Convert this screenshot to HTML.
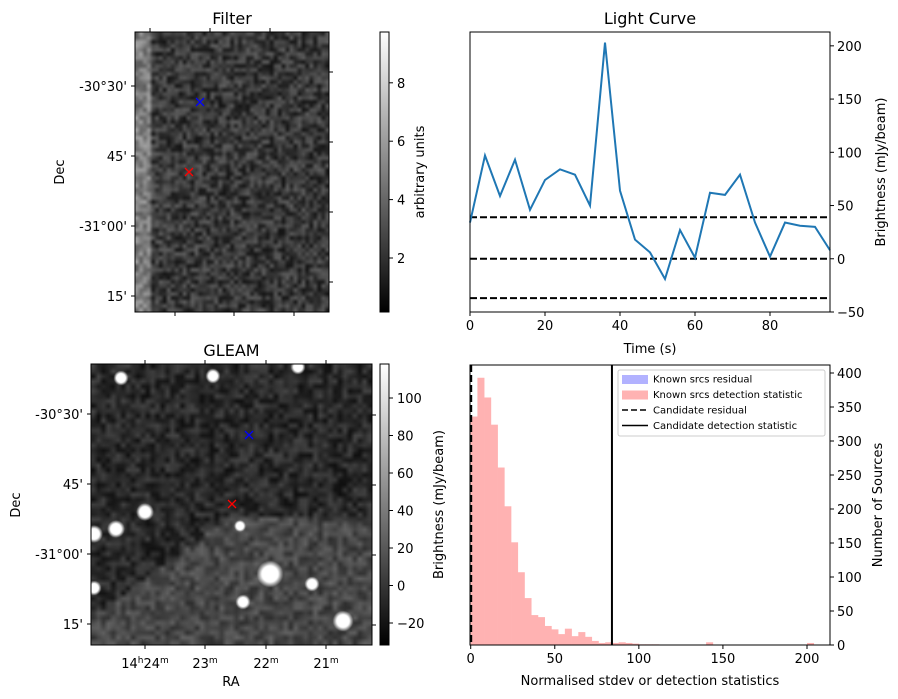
<!DOCTYPE html>
<html><head><meta charset="utf-8">
<style>
body{margin:0;background:#fff;}
#wrap{position:relative;width:898px;height:699px;overflow:hidden;font-family:"DejaVu Sans","Liberation Sans",sans-serif;}
canvas{position:absolute;}
svg{position:absolute;left:0;top:0;}
text{font-family:"DejaVu Sans","Liberation Sans",sans-serif;font-size:13px;fill:#000;}
</style></head>
<body>
<div id="wrap">
<canvas id="filterImg" width="194" height="280" style="left:135px;top:32px"></canvas>
<canvas id="gleamImg" width="281" height="281" style="left:91px;top:364px"></canvas>
<svg id="svg" width="898" height="699">
<defs><linearGradient id="cb" x1="0" y1="1" x2="0" y2="0"><stop offset="0" stop-color="#000"/><stop offset="1" stop-color="#fff"/></linearGradient></defs>
</svg>
</div>
<script>
// Light curve data
const lcTimes=[0,4,8,12,16,20,24,28,32,36,40,44,48,52,56,60,64,68,72,76,80,84,88,92,96];
const lcValues=[34,97,59,93,46,74,84,79,50,203,64,18,6,-19,27,1,62,60,79,34,2,34,31,30,8];
const lcThresholds=[39,0,-37];
const lcXTicks=[0,20,40,60,80];
const lcYTicks=[-50,0,50,100,150,200];
// Histogram data
const histBinStarts=[0,4,8,12,16,20,24,28,32,36,40,44,48,52,56,60,64,68,72,76,80,84,88,92,96,100,104,108,140,200];
const histCounts=[336,393,364,324,261,204,151,107,69,44,41,28,23,16,24,13,19,12,6,3,4,3,4,3,2,1,1,1,4,3];
const histBinWidth=4;
const candResidual=0.3;
const candDetection=84;
const histXTicks=[0,50,100,150,200];
const histYTicks=[0,50,100,150,200,250,300,350,400];
const filterCbTicks=[2,4,6,8];
const gleamCbTicks=[-20,0,20,40,60,80,100];

const NS='http://www.w3.org/2000/svg';
const svg=document.getElementById('svg');
function mk(tag,attrs,name,txt){const e=document.createElementNS(NS,tag);for(const k in attrs)e.setAttribute(k,attrs[k]);


if(txt!==undefined)e.textContent=txt;svg.appendChild(e);return e;}

// ---- Light curve
const lcL=470,lcR=830,lcT=32,lcB=312;
const lx=t=>lcL+(t-0)/(96-0)*(lcR-lcL);
const ly=v=>lcB-(v-(-50))/(213-(-50))*(lcB-lcT);
lcThresholds.forEach(v=>mk('line',{x1:lcL,x2:lcR,y1:ly(v),y2:ly(v),stroke:'#000','stroke-width':2,'stroke-dasharray':'7,3'},'threshold-line'));
mk('polyline',{points:lcTimes.map((t,i)=>lx(t)+','+ly(lcValues[i])).join(' '),fill:'none',stroke:'#1f77b4','stroke-width':2},'light-curve-line');
mk('rect',{x:lcL,y:lcT,width:lcR-lcL,height:lcB-lcT,fill:'none',stroke:'#000','stroke-width':1},'light-curve-frame');
lcXTicks.forEach(t=>{mk('line',{x1:lx(t),x2:lx(t),y1:lcB,y2:lcB+4,stroke:'#000'},'x-tick');mk('text',{x:lx(t),y:lcB+18,'text-anchor':'middle'},'x-tick-label',t);});
lcYTicks.forEach(v=>{mk('line',{x1:lcR,x2:lcR+4,y1:ly(v),y2:ly(v),stroke:'#000'},'y-tick');mk('text',{x:lcR+7,y:ly(v)+5,'text-anchor':'start'},'y-tick-label',v<0?'\u2212'+(-v):v);});
mk('text',{x:650,y:24,'text-anchor':'middle',style:'font-size:16px'},'light-curve-title','Light Curve');
mk('text',{x:650,y:353,'text-anchor':'middle'},'x-axis-title','Time (s)');
mk('text',{x:0,y:0,'text-anchor':'middle',transform:'translate(885,172) rotate(-90)'},'y-axis-title','Brightness (mJy/beam)');

// ---- Histogram
const hL=470,hR=830,hT=365,hB=645;
const hx=v=>hL+0.7+(v-0)/(200)*(807-470.7);
const hy=c=>hB-c/400*(645-373);
histBinStarts.forEach((b,i)=>mk('rect',{x:hx(b),y:hy(histCounts[i]),width:hx(b+histBinWidth)-hx(b)+0.3,height:hB-hy(histCounts[i]),fill:'#ffb2b2'},'hist-bar'));
mk('line',{x1:hx(candResidual),x2:hx(candResidual),y1:hT,y2:hB,stroke:'#000','stroke-width':2,'stroke-dasharray':'7,3'},'candidate-residual-line');
mk('line',{x1:hx(candDetection),x2:hx(candDetection),y1:hT,y2:hB,stroke:'#000','stroke-width':2},'candidate-detection-line');
mk('rect',{x:hL,y:hT,width:hR-hL,height:hB-hT,fill:'none',stroke:'#000'},'histogram-frame');
histXTicks.forEach(t=>{mk('line',{x1:hx(t),x2:hx(t),y1:hB,y2:hB+4,stroke:'#000'},'x-tick');mk('text',{x:hx(t),y:hB+18,'text-anchor':'middle'},'x-tick-label',t);});
histYTicks.forEach(v=>{mk('line',{x1:hR,x2:hR+4,y1:hy(v),y2:hy(v),stroke:'#000'},'y-tick');mk('text',{x:hR+7,y:hy(v)+5},'y-tick-label',v);});
mk('text',{x:650,y:685,'text-anchor':'middle'},'x-axis-title','Normalised stdev or detection statistics');
mk('text',{x:0,y:0,'text-anchor':'middle',transform:'translate(882,505) rotate(-90)'},'y-axis-title','Number of Sources');
// legend
mk('rect',{x:618,y:370,width:207,height:66,fill:'#fff',stroke:'#ccc',rx:2},'legend-box');
const leg=[['Known srcs residual','blue'],['Known srcs detection statistic','red'],['Candidate residual','dash'],['Candidate detection statistic','solid']];
leg.forEach((l,i)=>{const y=379+i*15.5;
 if(l[1]==='blue')mk('rect',{x:622,y:y-4,width:26,height:9,fill:'#b2b2ff'},'legend-swatch');
 else if(l[1]==='red')mk('rect',{x:622,y:y-4,width:26,height:9,fill:'#ffb2b2'},'legend-swatch');
 else mk('line',{x1:622,x2:648,y1:y,y2:y,stroke:'#000','stroke-width':1.5,'stroke-dasharray':l[1]==='dash'?'6,3':''},'legend-line');
 mk('text',{x:653,y:y+3.5,style:'font-size:10px'},'legend-entry',l[0]);});

// ---- image axes
function imgAxes(L,T,R,B,title,leftY,leftLabels,topX,botX,rightY){
 mk('rect',{x:L,y:T,width:R-L,height:B-T,fill:'none',stroke:'#000'},'image-frame');
 mk('text',{x:(L+R)/2,y:T-8,'text-anchor':'middle',style:'font-size:16px'},'image-title',title);
 leftY.forEach((y,i)=>{mk('line',{x1:L-4,x2:L,y1:y,y2:y,stroke:'#000'},'dec-tick');mk('text',{x:L-8,y:y+5,'text-anchor':'end'},'dec-tick-label',leftLabels[i]);});
 rightY.forEach(y=>mk('line',{x1:R,x2:R+4,y1:y,y2:y,stroke:'#000'},'dec-tick'));
 topX.forEach(x=>mk('line',{x1:x,x2:x,y1:T-4,y2:T,stroke:'#000'},'ra-tick'));
 botX.forEach(x=>mk('line',{x1:x,x2:x,y1:B,y2:B+4,stroke:'#000'},'ra-tick'));
}
imgAxes(135,32,329,312,'Filter',[86,156,226,296],["-30°30'","45'","-31°00'","15'"],[150,210,270],[175,234,294],[72,142,212,282]);
mk('text',{x:0,y:0,'text-anchor':'middle',transform:'translate(64,172) rotate(-90)'},'dec-axis-title','Dec');
imgAxes(91,364,372,645,'GLEAM',[414,484,554,624],["-30°30'","45'","-31°00'","15'"],[145,205,266,326],[145,205,266,326],[415,485,555,625]);
const raL=[['14','h','24','m'],['23','m'],['22','m'],['21','m']];
[145,205,266,326].forEach((x,i)=>{const t=mk('text',{x:x,y:668,'text-anchor':'middle'},'ra-tick-label');
 const p=raL[i];for(let k=0;k<p.length;k++){const s=document.createElementNS(NS,'tspan');s.textContent=p[k];if(k%2===1){s.setAttribute('dy','-5');s.setAttribute('style','font-size:9px');}else if(k>0){s.setAttribute('dy','5');}t.appendChild(s);}});
mk('text',{x:0,y:0,'text-anchor':'middle',transform:'translate(20,505) rotate(-90)'},'dec-axis-title','Dec');
mk('text',{x:231,y:686,'text-anchor':'middle'},'ra-axis-title','RA');
// markers
function xm(x,y,c){mk('path',{d:`M${x-4},${y-4}L${x+4},${y+4}M${x-4},${y+4}L${x+4},${y-4}`,stroke:c,'stroke-width':1.3},'source-marker');}
xm(200,102,'blue');xm(189,172,'red');xm(249,435,'blue');xm(232,504,'red');

// colorbars
function cbar(T,B,ticks,v2y,label,lx){mk('rect',{x:380,y:T,width:9,height:B-T,fill:'url(#cb)',stroke:'#000'},'colorbar');
 ticks.forEach(v=>{const y=v2y(v);mk('line',{x1:389,x2:393,y1:y,y2:y,stroke:'#000'},'colorbar-tick');mk('text',{x:397,y:y+5},'colorbar-tick-label',v<0?'\u2212'+(-v):v);});
 mk('text',{x:0,y:0,'text-anchor':'middle',transform:`translate(${lx},${(T+B)/2}) rotate(-90)`},'colorbar-label',label);}
cbar(32,312,filterCbTicks,v=>258-(v-2)*29.2,'arbitrary units',424);
cbar(364,645,gleamCbTicks,v=>623-(v+20)*1.875,'Brightness (mJy/beam)',443);

// ---- textures (deterministic)
let seed=7;function rnd(){seed=(seed*16807)%2147483647;return seed/2147483647;}
function noise(cv,cell,base,amp,fn){const w=cv.width,h=cv.height,ctx=cv.getContext('2d');
 const sw=Math.ceil(w/cell),sh=Math.ceil(h/cell);const s=document.createElement('canvas');s.width=sw;s.height=sh;const sc=s.getContext('2d');const id=sc.createImageData(sw,sh);
 for(let j=0;j<sh;j++)for(let i=0;i<sw;i++){let v=fn(i*cell,j*cell,base+amp*rnd());v=Math.max(0,Math.min(255,v));const k=(j*sw+i)*4;id.data[k]=id.data[k+1]=id.data[k+2]=v;id.data[k+3]=255;}
 sc.putImageData(id,0,0);ctx.imageSmoothingEnabled=true;ctx.drawImage(s,0,0,w,h);}
noise(document.getElementById('filterImg'),4,20,75,(x,y,v)=>x<14?v+70:v);
noise(document.getElementById('gleamImg'),5,15,55,(x,y,v)=>{const below=(x<141?y>151+(141-x)*0.72:y>151+(x-141)*0.045);return below?v+30:v;});
const g=document.getElementById('gleamImg').getContext('2d');
[[30,14,5],[122,12,5],[207,3,5],[54,148,6],[25,165,6],[3,170,6],[179,210,9],[152,238,5],[221,220,5],[149,162,4],[3,224,5],[252,257,7]].forEach(s=>{const gr=g.createRadialGradient(s[0],s[1],0,s[0],s[1],s[2]*1.5);gr.addColorStop(0,'#fff');gr.addColorStop(0.6,'#fff');gr.addColorStop(1,'rgba(255,255,255,0)');g.fillStyle=gr;g.beginPath();g.arc(s[0],s[1],s[2]*1.5,0,7);g.fill();});
</script>
</body></html>
